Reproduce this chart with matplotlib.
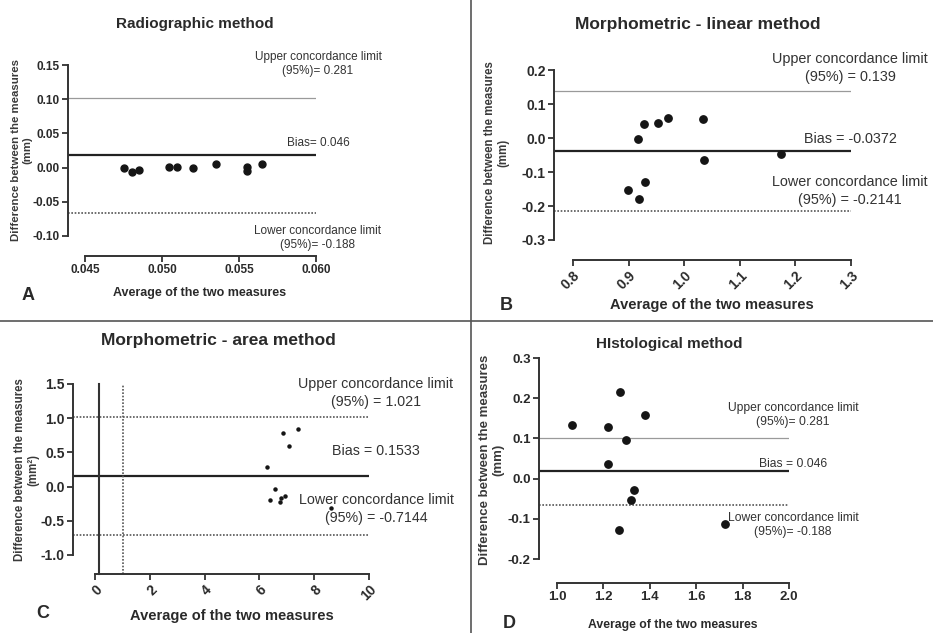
import matplotlib
matplotlib.use("Agg")
import matplotlib.pyplot as plt

plt.rcParams['font.family'] = ['Liberation Sans', 'DejaVu Sans']
plt.rcParams['axes.unicode_minus'] = False

W, H = 933, 633

# --- data ---
radio_x = [0.04753, 0.04803, 0.04853, 0.05047, 0.05099, 0.05199, 0.05351, 0.05550, 0.05550, 0.05651]
radio_y = [-0.001, -0.007, -0.0035, 0.0015, 0.0005, 0.0, 0.0049, 0.0015, -0.0044, 0.0049]
radio_limits = [0.102, 0.018, -0.066]   # upper, bias, lower (as drawn)
radio_labels = ["Upper concordance limit\n(95%)= 0.281", "Bias= 0.046",
                "Lower concordance limit\n(95%)= -0.188"]

lin_x = [0.899, 0.917, 0.919, 0.928, 0.930, 0.953, 0.971, 1.034, 1.036, 1.174]
lin_y = [-0.153, -0.003, -0.178, 0.042, -0.128, 0.044, 0.059, 0.055, -0.065, -0.047]
lin_limits = [0.139, -0.0372, -0.2141]
lin_labels = ["Upper concordance limit\n(95%) = 0.139", "Bias = -0.0372",
              "Lower concordance limit\n(95%) = -0.2141"]

area_x = [6.28, 6.86, 7.08, 7.41, 6.39, 6.57, 6.75, 6.80, 6.92, 8.61]
area_y = [0.28, 0.78, 0.60, 0.84, -0.19, -0.03, -0.22, -0.17, -0.14, -0.32]
area_limits = [1.021, 0.1533, -0.7144]
area_labels = ["Upper concordance limit\n(95%) = 1.021", "Bias = 0.1533",
               "Lower concordance limit\n(95%) = -0.7144"]

hist_x = [1.065, 1.221, 1.272, 1.381, 1.296, 1.219, 1.333, 1.318, 1.267, 1.723]
hist_y = [0.133, 0.129, 0.216, 0.159, 0.096, 0.037, -0.029, -0.053, -0.129, -0.113]
hist_limits = [0.102, 0.018, -0.066]
hist_labels = ["Upper concordance limit\n(95%)= 0.281", "Bias = 0.046",
               "Lower concordance limit\n(95%)= -0.188"]

fig = plt.figure(figsize=(W / 100, H / 100), dpi=100)
fig.patch.set_facecolor('white')

TXT = '#2a2a2a'


def fx(px):
    return px / W


def fy(py):
    return 1 - py / H


def make_axes(left, right, top, bottom):
    return fig.add_axes([fx(left), fy(bottom), (right - left) / W, (bottom - top) / H])


def style_axes(ax, xlim, ylim, xticks, yticks, xbounds, offset_px, tick_fs,
               xlabels=None, ylabels=None, rot=0):
    ax.set_xlim(*xlim)
    ax.set_ylim(*ylim)
    for s in ['top', 'right']:
        ax.spines[s].set_visible(False)
    for s in ['left', 'bottom']:
        ax.spines[s].set_linewidth(1.4)
        ax.spines[s].set_color('#333333')
    ax.spines['bottom'].set_position(('outward', offset_px * 0.72))
    ax.spines['bottom'].set_bounds(*xbounds)
    ax.set_xticks(xticks)
    ax.set_yticks(yticks)
    if xlabels is not None:
        ax.set_xticklabels(xlabels)
    if ylabels is not None:
        ax.set_yticklabels(ylabels)
    ax.tick_params(direction='out', length=4, width=1.3, colors='#333333',
                   labelsize=tick_fs, pad=2)
    for lab in ax.get_xticklabels() + ax.get_yticklabels():
        lab.set_fontweight('bold')
        lab.set_color(TXT)
    if rot:
        for lab in ax.get_xticklabels():
            lab.set_rotation(rot)
            lab.set_ha('right')
            lab.set_va('top')
            lab.set_rotation_mode('anchor')
    ax.patch.set_alpha(0)


def limit_lines(ax, limits, upper_style):
    up, bias, low = limits
    if upper_style == 'solid':
        ax.axhline(up, color='#9a9a9a', lw=0.9, zorder=1)
    else:
        ax.axhline(up, color='#555555', lw=1.2, ls=(0, (1, 1)), zorder=1)
    ax.axhline(bias, color='#222222', lw=1.6, zorder=1)
    ax.axhline(low, color='#555555', lw=1.2, ls=(0, (1, 1)), zorder=1)


def annotate(labels, cx, ys, fs):
    for lab, y in zip(labels, ys):
        fig.text(fx(cx), fy(y), lab, ha='center', va='center', multialignment='center',
                 fontsize=fs, color='#333333', linespacing=1.3)


def panel_text(title, tpos, tfs, letter, lpos, xlabel, xpos, xfs, ylabel, ypos, yfs):
    fig.text(fx(tpos[0]), fy(tpos[1]), title, ha='center', va='center',
             fontsize=tfs, fontweight='bold', color=TXT)
    fig.text(fx(lpos[0]), fy(lpos[1]), letter, ha='center', va='center',
             fontsize=13, fontweight='bold', color=TXT)
    fig.text(fx(xpos[0]), fy(xpos[1]), xlabel, ha='center', va='center',
             fontsize=xfs, fontweight='bold', color=TXT)
    fig.text(fx(ypos[0]), fy(ypos[1]), ylabel, ha='center', va='center', rotation=90,
             multialignment='center', fontsize=yfs, fontweight='bold', color='#3a3a3a',
             linespacing=1.15)


# --- A: radiographic ---
axA = make_axes(68, 316, 65, 236)
limit_lines(axA, radio_limits, 'solid')
axA.plot(radio_x, radio_y, 'o', color='#151515', ms=5, zorder=3, clip_on=False)
style_axes(axA, (0.0439, 0.060), (-0.10, 0.15), [0.045, 0.050, 0.055, 0.060],
           [-0.10, -0.05, 0.0, 0.05, 0.10, 0.15], (0.045, 0.060), 20, 8.5,
           xlabels=['0.045', '0.050', '0.055', '0.060'],
           ylabels=['-0.10', '-0.05', '0.00', '0.05', '0.10', '0.15'])
annotate(radio_labels, 318, [64, 143, 238], 8.5)
panel_text("Radiographic method", (195, 24), 11, "A", (28, 295),
           "Average of the two measures", (200, 293), 9,
           "Difference between the measures\n(mm)", (22, 150), 8.2)

# --- B: morphometric linear ---
axB = make_axes(554, 851, 70, 240)
limit_lines(axB, lin_limits, 'solid')
axB.plot(lin_x, lin_y, 'o', color='#151515', ms=5.3, zorder=3, clip_on=False)
style_axes(axB, (0.766, 1.3), (-0.3, 0.2), [0.8, 0.9, 1.0, 1.1, 1.2, 1.3],
           [-0.3, -0.2, -0.1, 0.0, 0.1, 0.2], (0.8, 1.3), 20, 10, rot=45)
annotate(lin_labels, 850, [68, 139, 191], 10.4)
panel_text("Morphometric - linear method", (698, 24), 12.5, "B", (506, 305),
           "Average of the two measures", (712, 305), 10.5,
           "Difference between the measures\n(mm)", (497, 153), 8.3)

# --- C: morphometric area ---
axC = make_axes(73, 369, 384, 555)
limit_lines(axC, area_limits, 'dotted')
axC.axvline(area_limits[1], ymin=-0.11, ymax=1, color='#333333', lw=1.5, clip_on=False, zorder=1)
axC.axvline(area_limits[0], ymin=-0.11, ymax=1, color='#555555', lw=1.2, ls=(0, (1, 1)),
            clip_on=False, zorder=1)
axC.plot(area_x, area_y, 'o', color='#151515', ms=2.2, zorder=3, clip_on=False)
style_axes(axC, (-0.8, 10), (-1.0, 1.5), [0, 2, 4, 6, 8, 10],
           [-1.0, -0.5, 0.0, 0.5, 1.0, 1.5], (0, 10), 19, 10, rot=45)
annotate(area_labels, 376, [393, 451, 509], 10.3)
panel_text("Morphometric - area method", (218, 341), 12.5, "C", (43, 614),
           "Average of the two measures", (232, 616), 10.5,
           "Difference between the measures\n(mm²)", (27, 470), 8.3)

# --- D: histological ---
axD = make_axes(539, 789, 358, 559)
limit_lines(axD, hist_limits, 'solid')
axD.plot(hist_x, hist_y, 'o', color='#151515', ms=5.3, zorder=3, clip_on=False)
style_axes(axD, (0.922, 2.0), (-0.2, 0.3), [1.0, 1.2, 1.4, 1.6, 1.8, 2.0],
           [-0.2, -0.1, 0.0, 0.1, 0.2, 0.3], (1.0, 2.0), 24, 9.5)
annotate(hist_labels, 793, [415, 464, 525], 8.7)
panel_text("HIstological method", (669, 344), 11, "D", (509, 623),
           "Average of the two measures", (673, 625), 8.8,
           "Difference between the measures\n(mm)", (492, 460), 9.5)

# --- panel separators ---
fig.add_artist(plt.Line2D([fx(471), fx(471)], [0, 1], transform=fig.transFigure,
                          color='#555555', lw=1.2))
fig.add_artist(plt.Line2D([0, 1], [fy(321), fy(321)], transform=fig.transFigure,
                          color='#555555', lw=1.2))

fig.savefig('out.png', dpi=100, facecolor='white')
